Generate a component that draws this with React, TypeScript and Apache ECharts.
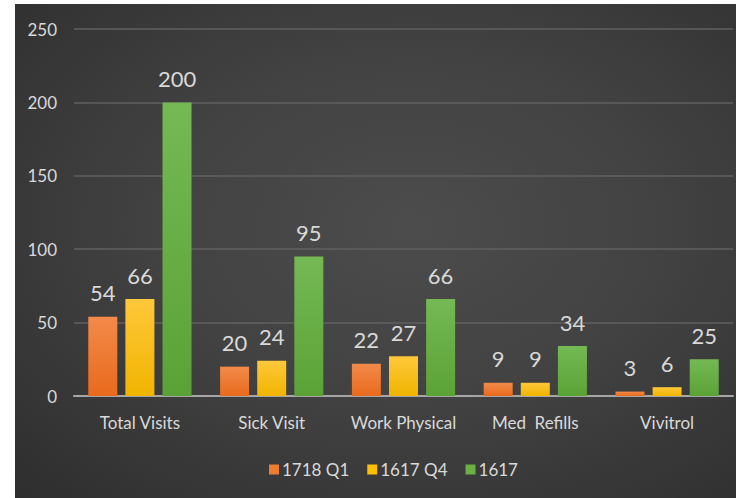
import React, { useEffect, useRef } from "react";
import * as echarts from "echarts";

const categories = ["Total Visits", "Sick Visit", "Work Physical", "Med  Refills", "Vivitrol"];
const seriesNames = ["1718 Q1", "1617 Q4", "1617"];
const q1718 = [54, 20, 22, 9, 3];
const q1617Q4 = [66, 24, 27, 9, 6];
const y1617 = [200, 95, 66, 34, 25];

const colorsTop = ["#F28A4A", "#FFC83A", "#74B954"];
const colorsBottom = ["#E96A1C", "#F0B400", "#5BA236"];
const solid = ["#ED7D31", "#FFC000", "#6AB042"];

const FONT = "Lato, 'Open Sans', sans-serif";

export default function App() {
  const ref = useRef<HTMLDivElement>(null);
  useEffect(() => {
    document.body.style.margin = "0";
    const chart = echarts.init(ref.current!, null, { renderer: "svg" });
    const data = [q1718, q1617Q4, y1617];
    chart.setOption({
      animation: false,
      textStyle: { fontFamily: FONT },
      grid: { left: 59, right: 3, top: 25, bottom: 102, containLabel: false },
      legend: {
        left: 249,
        top: 452,
        itemWidth: 10,
        itemHeight: 10,
        itemGap: 18,
        icon: "rect",
        textStyle: { color: "#D9D9D9", fontSize: 17, fontFamily: FONT, padding: [0, 0, 0, -2] },
        data: seriesNames.map((n, i) => ({ name: n, itemStyle: { color: solid[i] } })),
      },
      xAxis: {
        type: "category",
        data: categories,
        axisLine: { lineStyle: { color: "#A6A6A6", width: 2 } },
        axisTick: { show: false },
        axisLabel: { color: "#D9D9D9", fontSize: 17, margin: 18, interval: 0, fontFamily: FONT },
      },
      yAxis: {
        type: "value",
        min: 0,
        max: 250,
        interval: 50,
        axisLine: { show: false },
        axisTick: { show: false },
        axisLabel: { color: "#D9D9D9", fontSize: 17, margin: 17, fontFamily: FONT },
        splitLine: { lineStyle: { color: "#606060", width: 1.5 } },
      },
      series: seriesNames.map((name, i) => ({
        name,
        type: "bar",
        data: data[i],
        barWidth: 29,
        barGap: "28%",
        itemStyle: {
          color: new echarts.graphic.LinearGradient(0, 0, 0, 1, [
            { offset: 0, color: colorsTop[i] },
            { offset: 1, color: colorsBottom[i] },
          ]),
        },
        label: {
          show: true,
          position: "top",
          distance: 13,
          color: "#D9D9D9",
          fontSize: 22,
          fontFamily: FONT,
        },
      })),
    });
    return () => chart.dispose();
  }, []);
  return (
    <div style={{ position: "relative", width: 736, height: 498, background: "#ffffff", overflow: "hidden" }}>
      <div
        style={{
          position: "absolute",
          left: 15,
          top: 4,
          width: 721,
          height: 494,
          background: "radial-gradient(ellipse at 55% 45%, #4c4c4c 0%, #424242 45%, #2e2e2e 100%)",
        }}
      >
        <div ref={ref} style={{ width: 721, height: 494 }} />
      </div>
    </div>
  );
}
